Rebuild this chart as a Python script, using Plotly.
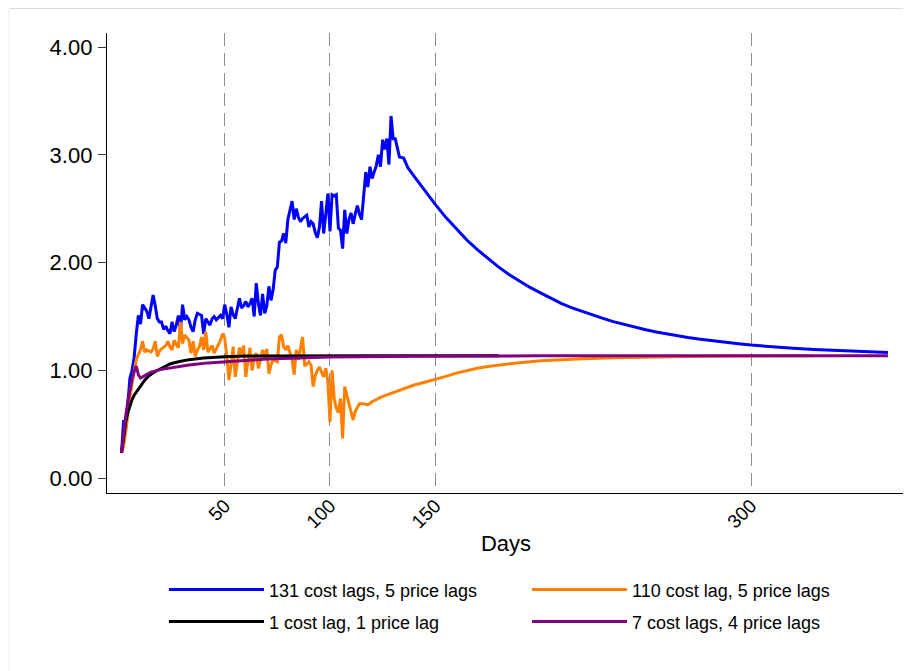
import plotly.graph_objects as go

# ---------------- data ----------------
blue_days = list(range(1, 134)) + [135, 137, 140, 143, 146, 150, 155, 160, 165, 170, 175, 180,
                                   185, 190, 195, 200, 205, 210, 215, 220, 225, 230, 235, 240,
                                   245, 250, 255, 260, 265, 270, 275, 280, 285, 290, 295, 300,
                                   310, 320, 330, 340, 350, 358, 365]
blue_vals = [0.235, 0.54, 0.46, 0.72, 0.93, 1.00, 1.12, 1.34, 1.51, 1.43,
             1.61, 1.58, 1.55, 1.48, 1.59, 1.70, 1.60, 1.48, 1.45, 1.45,
             1.38, 1.41, 1.37, 1.34, 1.45, 1.36, 1.42, 1.51, 1.37, 1.61,
             1.47, 1.50, 1.47, 1.40, 1.36, 1.47, 1.53, 1.52, 1.51, 1.34,
             1.48, 1.45, 1.42, 1.48, 1.50, 1.47, 1.49, 1.51, 1.48, 1.61,
             1.52, 1.40, 1.59, 1.52, 1.48, 1.58, 1.67, 1.58, 1.60, 1.64,
             1.59, 1.62, 1.67, 1.50, 1.81, 1.62, 1.51, 1.71, 1.53, 1.60,
             1.78, 1.65, 1.75, 1.93, 1.96, 2.19, 2.20, 2.27, 2.18, 2.40,
             2.48, 2.57, 2.40, 2.50, 2.42, 2.38, 2.41, 2.43, 2.44, 2.33,
             2.38, 2.36, 2.28, 2.23, 2.33, 2.57, 2.27, 2.45, 2.64, 2.29,
             2.63, 2.62, 2.63, 2.32, 2.30, 2.13, 2.49, 2.27, 2.40, 2.46,
             2.36, 2.45, 2.53, 2.45, 2.40, 2.62, 2.84, 2.70, 2.89, 2.78,
             2.84, 2.90, 3.00, 2.89, 3.14, 3.05, 3.15, 2.91, 3.36, 3.15,
             3.15, 3.05, 2.98,
             2.97, 2.88, 2.80, 2.72, 2.64, 2.54, 2.42, 2.31, 2.21, 2.12, 2.04, 1.96,
             1.89, 1.83, 1.77, 1.72, 1.67, 1.62, 1.58, 1.545, 1.51, 1.48, 1.45, 1.424,
             1.40, 1.377, 1.357, 1.338, 1.321, 1.305, 1.291, 1.278, 1.266, 1.255, 1.245, 1.235,
             1.219, 1.206, 1.194, 1.185, 1.177, 1.171, 1.166]

orange_days = list(range(1, 115)) + [116, 118, 120, 124, 128, 132, 136, 140, 145, 150, 155, 160,
                                     165, 170, 175, 180, 190, 200, 210, 220, 235, 250, 270, 300, 330]
orange_vals = [0.235, 0.30, 0.43, 0.60, 0.75, 0.88, 1.00, 1.10, 1.15, 1.19,
               1.27, 1.17, 1.19, 1.18, 1.17, 1.20, 1.27, 1.13, 1.18, 1.20,
               1.22, 1.23, 1.27, 1.22, 1.19, 1.28, 1.24, 1.21, 1.45, 1.25,
               1.33, 1.30, 1.28, 1.16, 1.27, 1.13, 1.19, 1.22, 1.31, 1.19,
               1.36, 1.17, 1.20, 1.23, 1.16, 1.20, 1.23, 1.28, 1.34, 1.30,
               1.13, 0.91, 1.05, 1.22, 0.94, 1.10, 1.21, 1.15, 1.23, 0.94,
               1.10, 1.21, 1.00, 1.12, 1.16, 1.02, 1.10, 1.19, 1.12, 1.20,
               0.97, 1.05, 1.10, 1.09, 1.08, 1.31, 1.33, 1.22, 1.19, 1.23,
               1.16, 1.10, 0.96, 1.19, 1.10, 1.20, 1.31, 1.04, 1.06, 1.08,
               1.05, 0.85, 0.95, 1.00, 1.03, 0.98, 0.94, 1.02, 0.90, 0.52,
               1.00, 0.74, 0.65, 0.61, 0.74, 0.37, 0.85, 0.77, 0.70, 0.62,
               0.54, 0.62, 0.66, 0.69,
               0.69, 0.68, 0.71, 0.75, 0.78, 0.81, 0.84, 0.865, 0.89, 0.915, 0.945, 0.975,
               1.00, 1.02, 1.037, 1.05, 1.072, 1.09, 1.10, 1.108, 1.117, 1.124, 1.13, 1.134, 1.135]

black_days = [1, 2, 3, 4, 5, 6, 7, 8, 10, 12, 14, 17, 20, 24, 28, 33, 40, 50, 60, 80, 120, 180]
black_vals = [0.235, 0.40, 0.52, 0.61, 0.68, 0.73, 0.77, 0.80, 0.86, 0.91, 0.95, 0.99, 1.02,
              1.06, 1.08, 1.10, 1.115, 1.128, 1.133, 1.136, 1.137, 1.137]

purple_days = [1, 2, 3, 4, 5, 6, 7, 8, 9, 10, 11, 13, 15, 20, 26, 33, 42, 53, 70, 100, 140, 200, 365]
purple_vals = [0.235, 0.42, 0.58, 0.71, 0.82, 0.92, 0.99, 1.04, 0.96, 0.93, 0.94, 0.96, 0.985,
               1.01, 1.03, 1.05, 1.07, 1.085, 1.105, 1.125, 1.132, 1.135, 1.135]

series_names = ["131 cost lags, 5 price lags", "110 cost lag, 5 price lags",
                "1 cost lag, 1 price lag", "7 cost lags, 4 price lags"]
series_colors = ["#0000FF", "#FF8000", "#000000", "#800080"]
series_legend = ["legend", "legend", "legend2", "legend2"]

x_tick_vals = [50, 100, 150, 300]
y_tick_vals = [0, 1, 2, 3, 4]
y_tick_text = ["0.00", "1.00", "2.00", "3.00", "4.00"]

# ---------------- figure ----------------
FONT = "Liberation Sans, Arial, sans-serif"
fig = go.Figure()
for d, v, n, c, lg in zip([blue_days, orange_days, black_days, purple_days],
                          [blue_vals, orange_vals, black_vals, purple_vals],
                          series_names, series_colors, series_legend):
    fig.add_trace(go.Scatter(x=d, y=v, mode="lines", name=n, legend=lg,
                             line=dict(color=c, width=3)))

# outer frame of the graph region (top and left edges)
fig.add_shape(type="line", xref="paper", yref="paper", x0=-0.1228, x1=1.03,
              y0=1.0544, y1=1.0544, line=dict(color="#b5b5b5", width=1.2))
fig.add_shape(type="line", xref="paper", yref="paper", x0=-0.1228, x1=-0.1228,
              y0=1.0544, y1=-0.42, line=dict(color="#ececec", width=1))

legend_common = dict(orientation="h", xanchor="left", yanchor="top",
                     font=dict(size=18, family=FONT), itemwidth=95, entrywidth=253,
                     bgcolor="rgba(0,0,0,0)")

fig.update_layout(
    width=911, height=671,
    margin=dict(l=99, r=14, t=25, b=186),
    paper_bgcolor="white", plot_bgcolor="white",
    font=dict(family=FONT, color="black"),
    showlegend=True,
    legend=dict(x=0.0714, y=-0.1703, **legend_common),
    legend2=dict(x=0.0714, y=-0.2399, **legend_common),
    xaxis=dict(range=[-5.9, 373.1], tickvals=x_tick_vals, tickangle=-45,
               tickfont=dict(size=19), showgrid=True, gridcolor="#8c8c8c",
               griddash="13px,7px", gridwidth=1, zeroline=False, automargin=False,
               showline=True, linecolor="black", linewidth=1.3, ticks="",
               ticklabelstandoff=-7,
               title=dict(text="Days", font=dict(size=22), standoff=4)),
    yaxis=dict(range=[-0.137, 4.13], tickvals=y_tick_vals, ticktext=y_tick_text,
               tickfont=dict(size=22), showgrid=False, zeroline=False, automargin=False,
               showline=True, linecolor="black", linewidth=1.3,
               ticks="outside", ticklen=8, tickcolor="#333", tickwidth=1,
               ticklabelstandoff=1),
)

fig.write_html("out.html")
